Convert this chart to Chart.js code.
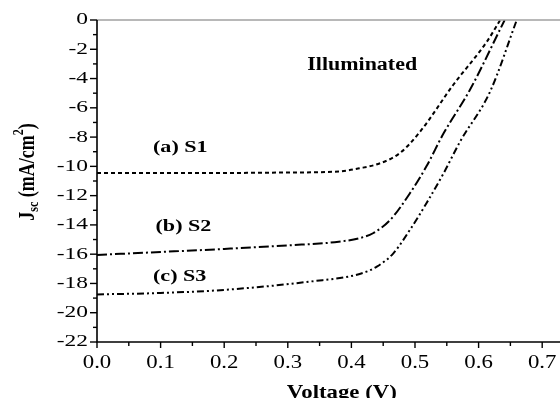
<!DOCTYPE html>
<html>
<head>
<meta charset="utf-8">
<script src="https://cdn.jsdelivr.net/npm/chart.js@4/dist/chart.umd.min.js"></script>
<style>
  html, body { margin: 0; padding: 0; background: #fff; }
  #grafico { display: block; }
</style>
</head>
<body>
<canvas id="grafico" width="560" height="398"></canvas>
<script>
// curva J-V da amostra S1
var s1V = [0, 0.1, 0.2, 0.3, 0.38, 0.413, 0.445, 0.476, 0.508, 0.56, 0.613, 0.634];
var s1J = [-10.45, -10.45, -10.45, -10.42, -10.35, -10.13, -9.79, -9.1, -7.63, -4.44, -1.48, 0];

// curva J-V da amostra S2
var s2V = [0, 0.1, 0.2, 0.3, 0.38, 0.413, 0.434, 0.461, 0.492, 0.518, 0.545, 0.586, 0.641];
var s2J = [-16.05, -15.85, -15.64, -15.4, -15.15, -14.9, -14.57, -13.66, -11.84, -10.0, -7.74, -4.8, 0];

// curva J-V da amostra S3
var s3V = [0, 0.1, 0.2, 0.335, 0.413, 0.44, 0.466, 0.492, 0.518, 0.545, 0.571, 0.618, 0.66];
var s3J = [-18.75, -18.65, -18.44, -17.87, -17.35, -16.85, -15.94, -14.34, -12.52, -10.47, -8.3, -4.9, 0];

// marcas dos eixos
var xTickValues = [0, 0.1, 0.2, 0.3, 0.4, 0.5, 0.6, 0.7];
var xTickLabels = ["0.0", "0.1", "0.2", "0.3", "0.4", "0.5", "0.6", "0.7"];
var yTickValues = [0, -2, -4, -6, -8, -10, -12, -14, -16, -18, -20, -22];
var yTickLabels = ["0", "-2", "-4", "-6", "-8", "-10", "-12", "-14", "-16", "-18", "-20", "-22"];

// rótulos dentro do gráfico (posição em V e J)
var rotulos = ["(a) S1", "(b) S2", "(c) S3", "Illuminated"];
var rotuloV = [0.088, 0.092, 0.088, 0.417];
var rotuloJ = [-8.75, -14.14, -17.54, -3.07];

function pontos(vs, js) {
  return vs.map(function (v, i) { return { x: v, y: js[i] }; });
}

// escreve texto esticado na horizontal
function texto(ctx, str, x, y, fonte, sx, alinhar) {
  ctx.save();
  ctx.font = fonte;
  ctx.textBaseline = "middle";
  var w = ctx.measureText(str).width * sx;
  var x0 = x;
  if (alinhar === "center") x0 = x - w / 2;
  if (alinhar === "right") x0 = x - w;
  ctx.translate(x0, y);
  ctx.scale(sx, 1);
  ctx.textAlign = "left";
  ctx.fillStyle = "#000";
  ctx.fillText(str, 0, 0);
  ctx.restore();
}

var eixos = {
  id: "eixos",
  afterDraw: function (chart) {
    var ctx = chart.ctx;
    var area = chart.chartArea;
    var sx = chart.scales.x;
    var sy = chart.scales.y;

    // linha cinza no topo
    ctx.save();
    ctx.strokeStyle = "#a0a0a0";
    ctx.lineWidth = 1.5;
    ctx.beginPath();
    ctx.moveTo(area.left, area.top);
    ctx.lineTo(area.right, area.top);
    ctx.stroke();

    // eixos
    ctx.strokeStyle = "#000";
    ctx.lineWidth = 1.6;
    ctx.beginPath();
    ctx.moveTo(area.left, area.top);
    ctx.lineTo(area.left, area.bottom);
    ctx.lineTo(area.right, area.bottom);
    ctx.stroke();

    // marcas do eixo y (maiores a cada 2, menores no meio)
    ctx.lineWidth = 1.4;
    for (var j = 0; j >= -22; j--) {
      var py = sy.getPixelForValue(j);
      var len = (j % 2 === 0) ? 7 : 4;
      ctx.beginPath();
      ctx.moveTo(area.left - len, py);
      ctx.lineTo(area.left, py);
      ctx.stroke();
    }
    // marcas do eixo x
    for (var k = 0; k <= 14; k++) {
      var px = sx.getPixelForValue(k * 0.05);
      var lx = (k % 2 === 0) ? 6 : 4;
      ctx.beginPath();
      ctx.moveTo(px, area.bottom);
      ctx.lineTo(px, area.bottom + lx);
      ctx.stroke();
    }
    ctx.restore();

    var serif = "'Liberation Serif', 'DejaVu Serif', serif";

    yTickValues.forEach(function (v, i) {
      texto(ctx, yTickLabels[i], area.left - 9, sy.getPixelForValue(v), "17px " + serif, 1.38, "right");
    });
    xTickValues.forEach(function (v, i) {
      texto(ctx, xTickLabels[i], sx.getPixelForValue(v), area.bottom + 21, "19px " + serif, 1.2, "center");
    });

    rotulos.forEach(function (r, i) {
      var px = sx.getPixelForValue(rotuloV[i]);
      var py = sy.getPixelForValue(rotuloJ[i]);
      if (i === 3) {
        texto(ctx, r, px, py, "bold 18px " + serif, 1.22, "center");
      } else {
        texto(ctx, r, px, py, "bold 17px " + serif, 1.3, "left");
      }
    });

    // título do eixo x
    ctx.save();
    ctx.font = "bold 19px " + serif;
    ctx.textBaseline = "alphabetic";
    var tw = ctx.measureText("Voltage (V)").width * 1.2;
    ctx.translate(sx.getPixelForValue(0.385) - tw / 2, 398);
    ctx.scale(1.2, 1);
    ctx.fillStyle = "#000";
    ctx.fillText("Voltage (V)", 0, 0);
    ctx.restore();

    // título do eixo y com subscrito e sobrescrito
    ctx.save();
    ctx.translate(28, 172);
    ctx.rotate(-Math.PI / 2);
    ctx.scale(1, 1.25);
    ctx.fillStyle = "#000";
    ctx.textBaseline = "middle";
    var fg = "bold 18px " + serif;
    var fp = "bold 12px " + serif;
    var partes = [
      { t: "J", f: fg, dy: 0 },
      { t: "sc", f: fp, dy: 5 },
      { t: " (mA/cm", f: fg, dy: 0 },
      { t: "2", f: fp, dy: -7 },
      { t: ")", f: fg, dy: 0 }
    ];
    var total = 0;
    partes.forEach(function (p) { ctx.font = p.f; p.w = ctx.measureText(p.t).width; total += p.w; });
    var cx = -total / 2;
    partes.forEach(function (p) {
      ctx.font = p.f;
      ctx.fillText(p.t, cx, p.dy);
      cx += p.w;
    });
    ctx.restore();
  }
};

var ctx = document.getElementById("grafico").getContext("2d");

var myChart = new Chart(ctx, {
  type: "line",
  data: {
    datasets: [
      { label: "(a) S1", data: pontos(s1V, s1J), borderDash: [4, 3] },
      { label: "(b) S2", data: pontos(s2V, s2J), borderDash: [10, 3, 2, 3] },
      { label: "(c) S3", data: pontos(s3V, s3J), borderDash: [7, 3, 2, 3, 2, 3] }
    ]
  },
  options: {
    responsive: false,
    animation: false,
    devicePixelRatio: 1,
    layout: { padding: { top: 20, right: 0, left: 0, bottom: 0 } },
    elements: {
      point: { radius: 0 },
      line: {
        borderColor: "#000",
        borderWidth: 2,
        fill: false,
        cubicInterpolationMode: "monotone",
        borderCapStyle: "butt"
      }
    },
    scales: {
      x: {
        type: "linear",
        min: 0,
        max: 0.728,
        grid: { display: false },
        border: { display: false },
        ticks: { display: false },
        afterFit: function (s) { s.height = 56; }
      },
      y: {
        type: "linear",
        min: -22,
        max: 0,
        grid: { display: false },
        border: { display: false },
        ticks: { display: false },
        afterFit: function (s) { s.width = 97; }
      }
    },
    plugins: {
      legend: { display: false },
      tooltip: { enabled: false }
    }
  },
  plugins: [eixos]
});
</script>
</body>
</html>
